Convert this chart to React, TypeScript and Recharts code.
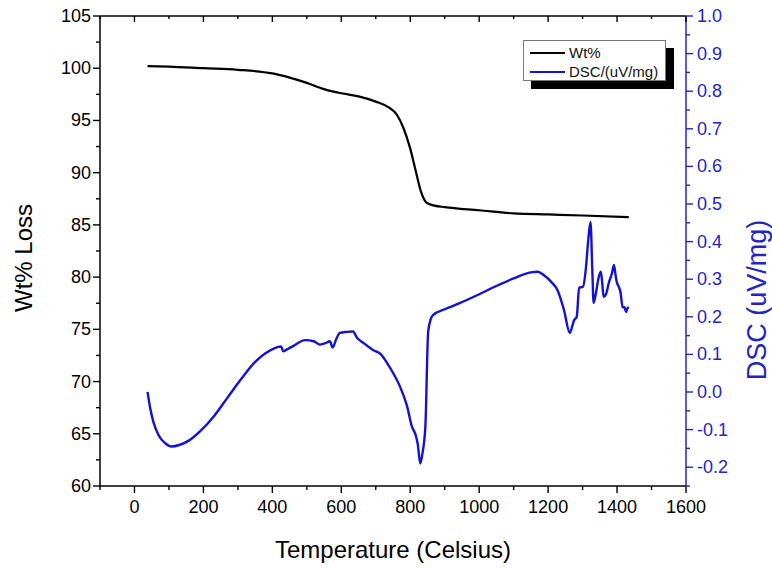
import React from 'react';
import {
    ComposedChart,
    Line,
    XAxis,
    YAxis,
    Legend,
    Label
} from 'recharts';

// Wt% curve (temperature in Celsius)
const WT_TEMP = [38, 100, 200, 300, 400, 450, 500, 550, 600, 650, 700, 740, 760, 780, 800, 815, 830, 845, 855, 870, 900, 1000, 1100, 1200, 1300, 1434];
const WT_VALUES = [100.2, 100.15, 100.0, 99.85, 99.5, 99.1, 98.6, 98.0, 97.6, 97.3, 96.8, 96.2, 95.6, 94.3, 92.3, 90.3, 88.3, 87.2, 87.0, 86.85, 86.7, 86.4, 86.1, 86.0, 85.9, 85.75];

// DSC curve (uV/mg)
const DSC_TEMP = [38, 45, 55, 70, 90, 108, 130, 160, 190, 230, 270, 310, 350, 380, 407, 425, 432, 440, 460, 495, 520, 538, 555, 567, 575, 585, 596, 615, 634, 645, 665, 692, 715, 733, 752, 771, 790, 806, 815, 822, 829, 836, 844, 852, 860, 867, 900, 940, 1000, 1050, 1100, 1150, 1170, 1187, 1210, 1227, 1246, 1263, 1270, 1275, 1283, 1290, 1301, 1310, 1316, 1323, 1328, 1332, 1340, 1345, 1353, 1357, 1361, 1368, 1376, 1385, 1391, 1395, 1399, 1405, 1410, 1416, 1422, 1426, 1430, 1434];
const DSC_VALUES = [0.0, -0.04, -0.08, -0.115, -0.137, -0.145, -0.141, -0.128, -0.105, -0.065, -0.015, 0.035, 0.08, 0.103, 0.117, 0.121, 0.108, 0.112, 0.122, 0.138, 0.135, 0.126, 0.13, 0.135, 0.118, 0.14, 0.157, 0.16, 0.161, 0.145, 0.13, 0.112, 0.1, 0.077, 0.048, 0.013, -0.035, -0.095, -0.112, -0.14, -0.19, -0.16, -0.09, 0.16, 0.195, 0.205, 0.22, 0.235, 0.26, 0.282, 0.302, 0.318, 0.32, 0.311, 0.292, 0.271, 0.218, 0.157, 0.175, 0.19, 0.2, 0.277, 0.28, 0.333, 0.4, 0.452, 0.33, 0.237, 0.27, 0.298, 0.32, 0.29, 0.253, 0.26, 0.29, 0.315, 0.338, 0.315, 0.293, 0.28, 0.265, 0.226, 0.225, 0.213, 0.222, 0.226];

// axis ticks (major + minor)
const X_TICKS = [-100, 0, 100, 200, 300, 400, 500, 600, 700, 800, 900, 1000, 1100, 1200, 1300, 1400, 1500, 1600];
const LEFT_TICKS = [60, 62.5, 65, 67.5, 70, 72.5, 75, 77.5, 80, 82.5, 85, 87.5, 90, 92.5, 95, 97.5, 100, 102.5, 105];
const RIGHT_TICKS = [-0.25, -0.2, -0.15, -0.1, -0.05, 0, 0.05, 0.1, 0.15, 0.2, 0.25, 0.3, 0.35, 0.4, 0.45, 0.5, 0.55, 0.6, 0.65, 0.7, 0.75, 0.8, 0.85, 0.9, 0.95, 1.0];

const FONT = '"Liberation Sans", Arial, sans-serif';
const BLUE = '#1212d0';
const AXIS_BLUE = '#2424c4';

// one table for the chart, each row carries either wt or dsc
const chartData = [
    ...WT_TEMP.map((t, i) => ({ t, wt: WT_VALUES[i] })),
    ...DSC_TEMP.map((t, i) => ({ t, dsc: DSC_VALUES[i] }))
].sort((a, b) => a.t - b.t);

const isMajorRight = (v: number) => Math.abs(Math.round(v * 10) - v * 10) < 1e-6;

const BottomTick = (props: any) => {
    const { x, y, payload } = props;
    const major = payload.value % 200 === 0;
    return (
        <g>
            <line x1={x} x2={x} y1={y} y2={y + (major ? 7 : 4)} stroke="#000" strokeWidth={1.4} />
            {major && (
                <text x={x} y={y + 21} textAnchor="middle" dominantBaseline="central" fontSize={18} fill="#000" fontFamily={FONT}>
                    {payload.value}
                </text>
            )}
        </g>
    );
};

// top frame: small ticks pointing into the plot
const TopTick = (props: any) => {
    const { x, y, payload } = props;
    const major = payload.value % 200 === 0;
    return <line x1={x} x2={x} y1={y} y2={y + (major ? 6 : 3)} stroke="#000" strokeWidth={1.4} />;
};

const LeftTick = (props: any) => {
    const { x, y, payload } = props;
    const major = payload.value % 5 === 0;
    return (
        <g>
            <line x1={x} x2={x - (major ? 7 : 4)} y1={y} y2={y} stroke="#000" strokeWidth={1.4} />
            {major && (
                <text x={x - 9} y={y} textAnchor="end" dominantBaseline="central" fontSize={18} fill="#000" fontFamily={FONT}>
                    {payload.value}
                </text>
            )}
        </g>
    );
};

const RightTick = (props: any) => {
    const { x, y, payload } = props;
    const major = isMajorRight(payload.value);
    return (
        <g>
            <line x1={x} x2={x + (major ? 7 : 4)} y1={y} y2={y} stroke={AXIS_BLUE} strokeWidth={1.4} />
            {major && (
                <text x={x + 11} y={y} textAnchor="start" dominantBaseline="central" fontSize={18} fill={AXIS_BLUE} fontFamily={FONT}>
                    {payload.value.toFixed(1)}
                </text>
            )}
        </g>
    );
};

const VerticalTitle = ({ cx, cy, text, size, color }: any) => (
    <text
        x={cx}
        y={cy}
        transform={`rotate(-90 ${cx} ${cy})`}
        textAnchor="middle"
        dominantBaseline="central"
        fontSize={size}
        fill={color}
        fontFamily={FONT}
    >
        {text}
    </text>
);

const LegendBox = () => (
    <div
        style={{
            width: 143,
            height: 41,
            boxSizing: 'border-box',
            border: '1px solid #777',
            background: '#fff',
            boxShadow: '8px 8px 0 #000',
            fontFamily: FONT,
            fontSize: 15,
            lineHeight: '19px',
            padding: '2px 0 0 6px'
        }}
    >
        {[
            { name: 'Wt%', color: '#000' },
            { name: 'DSC/(uV/mg)', color: BLUE }
        ].map(item => (
            <div key={item.name} style={{ display: 'flex', alignItems: 'center' }}>
                <div style={{ width: 35, height: 2, background: item.color, marginRight: 4 }} />
                <span style={{ color: '#111' }}>{item.name}</span>
            </div>
        ))}
    </div>
);

export default function App() {
    return (
        <div style={{ position: 'absolute', left: 0, top: 0, width: 772, height: 568, background: '#fff' }}>
            <ComposedChart width={772} height={568} data={chartData} margin={{ top: 15, right: 0, bottom: 0, left: 0 }}>
                <XAxis
                    xAxisId="bottom"
                    dataKey="t"
                    type="number"
                    domain={[-100, 1600]}
                    ticks={X_TICKS}
                    interval={0}
                    height={82}
                    tickSize={0}
                    tickMargin={0}
                    tick={<BottomTick />}
                    axisLine={{ stroke: '#000', strokeWidth: 1.5 }}
                    allowDataOverflow
                >
                    <Label
                        content={() => (
                            <text x={393} y={549} textAnchor="middle" dominantBaseline="central" fontSize={24} fill="#000" fontFamily={FONT}>
                                Temperature (Celsius)
                            </text>
                        )}
                    />
                </XAxis>
                <XAxis
                    xAxisId="top"
                    orientation="top"
                    dataKey="t"
                    type="number"
                    domain={[-100, 1600]}
                    ticks={X_TICKS}
                    interval={0}
                    height={1}
                    tickSize={0}
                    tickMargin={0}
                    tick={<TopTick />}
                    axisLine={{ stroke: '#000', strokeWidth: 1.5 }}
                    allowDataOverflow
                />
                <YAxis
                    yAxisId="left"
                    type="number"
                    domain={[60, 105]}
                    ticks={LEFT_TICKS}
                    interval={0}
                    width={100}
                    tickSize={0}
                    tickMargin={0}
                    tick={<LeftTick />}
                    axisLine={{ stroke: '#000', strokeWidth: 1.5 }}
                    allowDataOverflow
                >
                    <Label content={() => <VerticalTitle cx={23} cy={258} text="Wt% Loss" size={24} color="#000" />} />
                </YAxis>
                <YAxis
                    yAxisId="right"
                    orientation="right"
                    type="number"
                    domain={[-0.25, 1.0]}
                    ticks={RIGHT_TICKS}
                    interval={0}
                    width={86}
                    tickSize={0}
                    tickMargin={0}
                    tick={<RightTick />}
                    axisLine={{ stroke: AXIS_BLUE, strokeWidth: 1.5 }}
                    allowDataOverflow
                >
                    <Label content={() => <VerticalTitle cx={757} cy={300} text="DSC (uV/mg)" size={27} color={AXIS_BLUE} />} />
                </YAxis>
                <Legend
                    layout="horizontal"
                    verticalAlign="middle"
                    align="center"
                    wrapperStyle={{ left: 523, top: 40, width: 160 }}
                    content={() => <LegendBox />}
                />
                <Line
                    xAxisId="bottom"
                    yAxisId="left"
                    type="monotone"
                    dataKey="wt"
                    name="Wt%"
                    stroke="#000"
                    strokeWidth={2.2}
                    dot={false}
                    connectNulls
                    isAnimationActive={false}
                />
                <Line
                    xAxisId="bottom"
                    yAxisId="right"
                    type="monotone"
                    dataKey="dsc"
                    name="DSC/(uV/mg)"
                    stroke={BLUE}
                    strokeWidth={2.4}
                    dot={false}
                    connectNulls
                    isAnimationActive={false}
                />
            </ComposedChart>
        </div>
    );
}
